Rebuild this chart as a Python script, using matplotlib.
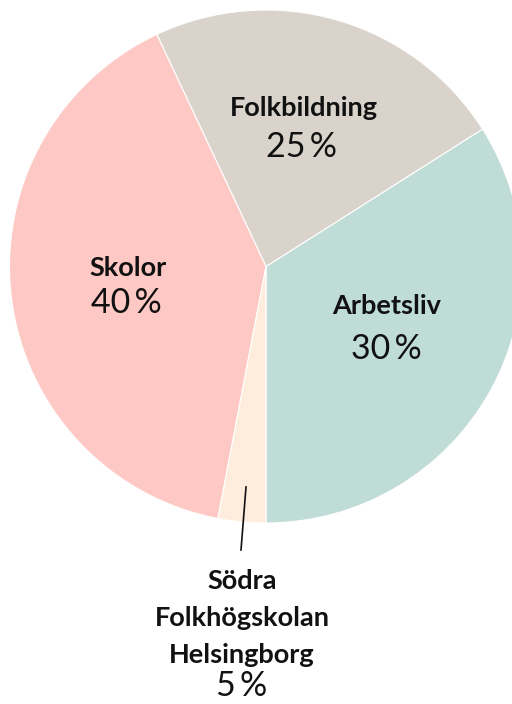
import matplotlib
matplotlib.use("Agg")

import matplotlib.pyplot as plt

# slice data (drawn shares) and printed labels
categories = ["Arbetsliv", "Folkbildning", "Skolor", "Södra\nFolkhögskolan\nHelsingborg"]
shares = [34, 23, 40, 3]
printed_pct = ["30", "25", "40", "5"]
colors = ["#bfdcd7", "#d9d3cc", "#fec9c4", "#feecdc"]

plt.rcParams["font.family"] = ["Lato", "DejaVu Sans"]

W, H = 512, 704
fig = plt.figure(figsize=(W / 100, H / 100), dpi=100)
ax = fig.add_axes([0, 0, 1, 1])

cx, cy, r = 266, H - 266.5, 256.5
ax.pie(
    shares,
    colors=colors,
    startangle=-90,
    counterclock=True,
    center=(cx, cy),
    radius=r,
    wedgeprops=dict(edgecolor="white", linewidth=0.8),
    frame=False,
)
ax.set_xlim(0, W)
ax.set_ylim(0, H)
ax.set_aspect("equal")
ax.axis("off")

# label positions in pixels from the top-left corner
name_pos = [(387, 306), (304, 108), (128, 268)]
value_pos = [(386, 349), (302, 147), (126, 303)]

name_size = 19.5
value_size = 24.5

for i in range(3):
    x, y = name_pos[i]
    ax.text(x, H - y, categories[i], ha="center", va="center",
            fontsize=name_size, fontweight="bold", color="#111111")
    x, y = value_pos[i]
    ax.text(x, H - y, printed_pct[i] + "\u2009%", ha="center", va="center",
            fontsize=value_size, fontweight="normal", color="#111111")

# small slice label below the pie
ax.plot([246, 241], [H - 487, H - 550], color="#111111", lw=1.2)
for k, line in enumerate(categories[3].split("\n")):
    ax.text(242, H - (581 + 37 * k), line, ha="center", va="center",
            fontsize=name_size, fontweight="bold", color="#111111")
ax.text(242, H - 686, printed_pct[3] + "\u2009%", ha="center", va="center",
        fontsize=value_size, fontweight="normal", color="#111111")

fig.savefig("out.png", dpi=100)
plt.close(fig)
